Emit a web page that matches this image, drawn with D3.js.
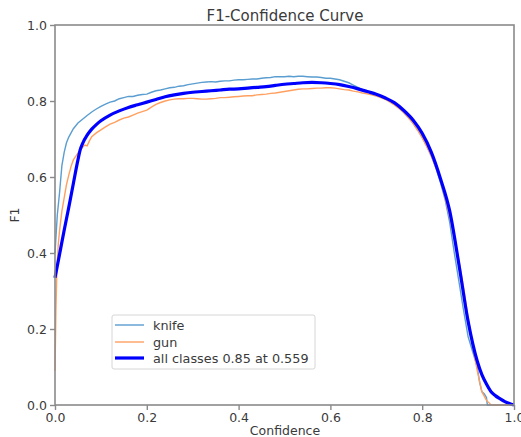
<!DOCTYPE html>
<html><head><meta charset="utf-8">
<script src="https://cdn.jsdelivr.net/npm/d3@7"></script>
<style>body{margin:0;background:#fff}svg{display:block}text{font-family:"DejaVu Sans",sans-serif}</style>
</head><body>
<svg id="c" width="521" height="437"></svg>
<script>
const title = "F1-Confidence Curve";
const xLabel = "Confidence";
const yLabel = "F1";
const xTicks = [0, 0.2, 0.4, 0.6, 0.8, 1.0];
const yTicks = [0, 0.2, 0.4, 0.6, 0.8, 1.0];
const seriesNames = ["knife", "gun", "all classes 0.85 at 0.559"];

const knife = [[0,0.40],[0.005,0.50],[0.01,0.56],[0.015,0.63],[0.02,0.665],[0.025,0.69],[0.03,0.705],[0.04,0.727],[0.05,0.742],[0.06,0.752],[0.07,0.762],[0.08,0.771],[0.09,0.779],[0.10,0.786],[0.11,0.792],[0.12,0.797],[0.13,0.800],[0.14,0.806],[0.15,0.809],[0.16,0.812],[0.17,0.812],[0.18,0.815],[0.19,0.817],[0.20,0.818],[0.21,0.823],[0.22,0.827],[0.23,0.829],[0.24,0.832],[0.25,0.835],[0.26,0.836],[0.27,0.839],[0.28,0.840],[0.29,0.843],[0.30,0.845],[0.31,0.847],[0.32,0.849],[0.33,0.850],[0.34,0.851],[0.35,0.850],[0.36,0.852],[0.37,0.853],[0.38,0.853],[0.39,0.855],[0.40,0.856],[0.41,0.856],[0.42,0.857],[0.43,0.858],[0.44,0.858],[0.45,0.860],[0.46,0.861],[0.47,0.862],[0.48,0.864],[0.49,0.864],[0.50,0.864],[0.51,0.865],[0.52,0.864],[0.53,0.865],[0.54,0.865],[0.55,0.864],[0.56,0.863],[0.57,0.863],[0.58,0.862],[0.59,0.860],[0.60,0.860],[0.61,0.858],[0.62,0.856],[0.63,0.852],[0.64,0.848],[0.65,0.842],[0.66,0.836],[0.67,0.830],[0.68,0.826],[0.69,0.822],[0.70,0.817],[0.71,0.811],[0.72,0.806],[0.73,0.800],[0.74,0.792],[0.75,0.783],[0.76,0.770],[0.77,0.757],[0.78,0.742],[0.79,0.725],[0.80,0.705],[0.81,0.682],[0.82,0.655],[0.83,0.623],[0.84,0.585],[0.85,0.540],[0.86,0.480],[0.87,0.400],[0.88,0.325],[0.89,0.250],[0.90,0.180],[0.91,0.140],[0.92,0.100],[0.925,0.060],[0.93,0.035],[0.935,0.030],[0.94,0.020],[0.942,0.0],[1.0,0.0]];

const gun = [[0,0.09],[0.002,0.25],[0.004,0.35],[0.007,0.42],[0.01,0.46],[0.015,0.51],[0.02,0.545],[0.025,0.58],[0.03,0.605],[0.035,0.628],[0.04,0.645],[0.05,0.663],[0.06,0.678],[0.065,0.684],[0.07,0.682],[0.075,0.695],[0.08,0.706],[0.09,0.716],[0.10,0.724],[0.11,0.732],[0.12,0.739],[0.13,0.744],[0.14,0.750],[0.15,0.755],[0.16,0.758],[0.17,0.763],[0.18,0.768],[0.19,0.772],[0.20,0.776],[0.21,0.784],[0.22,0.791],[0.23,0.796],[0.24,0.800],[0.25,0.803],[0.26,0.805],[0.27,0.806],[0.28,0.806],[0.29,0.807],[0.30,0.807],[0.31,0.806],[0.32,0.805],[0.33,0.805],[0.34,0.806],[0.35,0.807],[0.36,0.809],[0.37,0.809],[0.38,0.810],[0.39,0.811],[0.40,0.812],[0.41,0.813],[0.42,0.814],[0.43,0.814],[0.44,0.816],[0.45,0.817],[0.46,0.818],[0.47,0.820],[0.48,0.821],[0.49,0.823],[0.50,0.825],[0.51,0.827],[0.52,0.829],[0.53,0.831],[0.54,0.832],[0.55,0.832],[0.56,0.833],[0.57,0.834],[0.58,0.834],[0.59,0.835],[0.60,0.835],[0.61,0.834],[0.62,0.832],[0.63,0.830],[0.64,0.829],[0.65,0.826],[0.66,0.824],[0.67,0.821],[0.68,0.819],[0.69,0.816],[0.70,0.813],[0.71,0.809],[0.72,0.804],[0.73,0.797],[0.74,0.789],[0.75,0.780],[0.76,0.769],[0.77,0.756],[0.78,0.741],[0.79,0.723],[0.80,0.703],[0.81,0.680],[0.82,0.655],[0.83,0.625],[0.84,0.590],[0.85,0.545],[0.86,0.495],[0.87,0.435],[0.88,0.380],[0.89,0.310],[0.90,0.230],[0.91,0.155],[0.92,0.090],[0.93,0.035],[0.94,0.012],[0.948,0.003],[0.95,0.0],[1.0,0.0]];

const allClasses = [[0,0.335],[0.01,0.397],[0.02,0.46],[0.03,0.52],[0.04,0.583],[0.05,0.645],[0.055,0.672],[0.06,0.688],[0.07,0.710],[0.08,0.726],[0.09,0.738],[0.10,0.748],[0.12,0.763],[0.14,0.774],[0.16,0.783],[0.18,0.790],[0.20,0.797],[0.22,0.804],[0.24,0.811],[0.26,0.816],[0.28,0.820],[0.30,0.823],[0.32,0.825],[0.34,0.827],[0.36,0.829],[0.38,0.831],[0.40,0.832],[0.42,0.834],[0.44,0.836],[0.46,0.838],[0.48,0.841],[0.50,0.844],[0.52,0.846],[0.54,0.848],[0.56,0.849],[0.58,0.848],[0.60,0.846],[0.62,0.843],[0.64,0.838],[0.66,0.832],[0.68,0.825],[0.70,0.818],[0.72,0.808],[0.74,0.795],[0.76,0.775],[0.78,0.750],[0.80,0.715],[0.82,0.665],[0.84,0.595],[0.86,0.510],[0.88,0.370],[0.90,0.220],[0.92,0.115],[0.93,0.080],[0.94,0.055],[0.95,0.035],[0.96,0.024],[0.97,0.016],[0.98,0.009],[0.99,0.004],[1.0,0.0]];

const colors = ["#5a9dd0", "#ffa060", "#0000ff"];
const widths = [1.4, 1.4, 3.2];

const svg = d3.select("#c");
const x = d3.scaleLinear().domain([0,1]).range([55,514]);
const y = d3.scaleLinear().domain([0,1]).range([405,25]);
const axisColor = "#8a8a8a";
const labelColor = "#3a3a3a";

// lines
const line = d3.line().x(d=>x(d[0])).y(d=>y(d[1]));
const smooth = d3.line().x(d=>x(d[0])).y(d=>y(d[1])).curve(d3.curveMonotoneX);
svg.append("path").datum(knife).attr("d", line).attr("fill","none").attr("stroke",colors[0]).attr("stroke-width",widths[0]);
svg.append("path").datum(gun).attr("d", line).attr("fill","none").attr("stroke",colors[1]).attr("stroke-width",widths[1]);
svg.append("path").datum(allClasses).attr("d", smooth).attr("fill","none").attr("stroke",colors[2]).attr("stroke-width",widths[2]).attr("stroke-linejoin","round");

// frame
svg.append("rect").attr("x",x(0)).attr("y",y(1)).attr("width",x(1)-x(0)).attr("height",y(0)-y(1))
  .attr("fill","none").attr("stroke",axisColor).attr("stroke-width",1.6);

// axes
const fmt = d3.format(".1f");
const gx = svg.append("g").attr("transform",`translate(0,${y(0)})`)
  .call(d3.axisBottom(x).tickValues(xTicks).tickFormat(fmt).tickSize(5).tickPadding(3));
const gy = svg.append("g").attr("transform",`translate(${x(0)},0)`)
  .call(d3.axisLeft(y).tickValues(yTicks).tickFormat(fmt).tickSize(5).tickPadding(3));
[gx, gy].forEach(g => {
  g.select(".domain").remove();
  g.selectAll("line").attr("stroke",axisColor).attr("stroke-width",1.4);
  g.selectAll("text").attr("fill",labelColor).style("font-size","12.5px").style("font-family","DejaVu Sans");
});

// titles
svg.append("text").attr("x",285).attr("y",21).attr("text-anchor","middle").attr("fill","#3a3a3a")
  .style("font-size","15px").text(title);
svg.append("text").attr("x",285).attr("y",435).attr("text-anchor","middle").attr("fill",labelColor)
  .style("font-size","12.5px").text(xLabel);
svg.append("text").attr("transform","translate(19,215) rotate(-90)").attr("text-anchor","middle").attr("fill",labelColor)
  .style("font-size","12.5px").text(yLabel);

// legend
const lg = svg.append("g");
lg.append("rect").attr("x",112).attr("y",315).attr("width",203).attr("height",54).attr("rx",2)
  .attr("fill","#fff").attr("stroke","#d6d6d6").attr("stroke-width",1);
const ly = [325, 342, 358];
seriesNames.forEach((n,i) => {
  lg.append("line").attr("x1",115).attr("x2",144).attr("y1",ly[i]).attr("y2",ly[i])
    .attr("stroke",colors[i]).attr("stroke-width",widths[i]);
  lg.append("text").attr("x",153).attr("y",ly[i]+4.5).attr("fill",labelColor)
    .style("font-size","12.8px").text(n);
});
</script>
</body></html>
